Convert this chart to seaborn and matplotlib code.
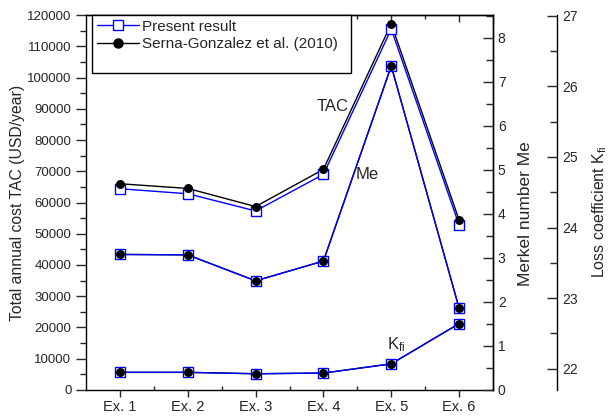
import matplotlib
matplotlib.use("Agg")
import matplotlib.pyplot as plt
import seaborn as sns
import numpy as np
import pandas as pd
from matplotlib.lines import Line2D
from matplotlib.ticker import MultipleLocator, FixedLocator

# ---- data ----
categories = ["Ex. 1", "Ex. 2", "Ex. 3", "Ex. 4", "Ex. 5", "Ex. 6"]
tac_present = [64400, 62800, 57300, 69000, 115500, 52800]
tac_serna = [66000, 64500, 58700, 70600, 117200, 54400]
me_present = [3.08, 3.07, 2.48, 2.93, 7.36, 1.86]
me_serna = [3.08, 3.07, 2.48, 2.93, 7.36, 1.86]
kfi_present = [21.95, 21.95, 21.93, 21.94, 22.07, 22.64]
kfi_serna = [21.95, 21.95, 21.93, 21.94, 22.07, 22.64]
series_labels = ["Present result", "Serna-Gonzalez et al. (2010)"]

pos = np.arange(len(categories))
df = pd.DataFrame({
    "x": pos,
    "tac_p": tac_present, "tac_s": tac_serna,
    "me_p": me_present, "me_s": me_serna,
    "kfi_p": kfi_present, "kfi_s": kfi_serna,
})

sns.set_style("ticks")
plt.rcParams["font.family"] = ["Liberation Sans", "DejaVu Sans"]
plt.rcParams["mathtext.fontset"] = "custom"
plt.rcParams["mathtext.rm"] = "Liberation Sans"
plt.rcParams["mathtext.it"] = "Liberation Sans:italic"
plt.rcParams["axes.linewidth"] = 1.0

BLUE = "#0000ff"
fig = plt.figure(figsize=(6.1, 4.18), dpi=100)
ax = fig.add_axes([0.1410, 0.0670, 0.6672, 0.8971])
ax2 = ax.twinx()
ax3 = ax.twinx()

blue_kw = dict(color=BLUE, lw=1.0, marker="s", markersize=7.5, markerfacecolor="white",
               markeredgecolor=BLUE, markeredgewidth=1.0)
black_line_kw = dict(color="black", lw=1.0)
dot_kw = dict(color="black", s=42, marker="o", edgecolor="black", linewidth=0)

for a, pcol, scol in [(ax, "tac_p", "tac_s"), (ax2, "me_p", "me_s"), (ax3, "kfi_p", "kfi_s")]:
    sns.lineplot(data=df, x="x", y=scol, ax=a, sort=False, zorder=2, **black_line_kw)
    sns.lineplot(data=df, x="x", y=pcol, ax=a, sort=False, zorder=3, **blue_kw)
    sns.scatterplot(data=df, x="x", y=scol, ax=a, zorder=4, **dot_kw)

# ---- axes ----
ax.set_xlim(-0.5, 5.5)
ax.set_xticks(pos)
ax.set_xticklabels(categories)
ax.xaxis.set_minor_locator(FixedLocator(pos[:-1] + 0.5))
ax.set_xlabel("")
ax.set_ylim(0, 120000)
ax.yaxis.set_major_locator(MultipleLocator(10000))
ax.yaxis.set_minor_locator(MultipleLocator(5000))
ax.tick_params(axis="y", which="major", direction="out", length=7, width=1, labelsize=9.5)
ax.tick_params(axis="y", which="minor", direction="out", length=4, width=1)
ax.tick_params(axis="x", which="major", direction="out", length=5, width=1, labelsize=10.5, pad=2)
ax.tick_params(axis="x", which="minor", direction="in", length=3, width=1)
ax.set_ylabel("Total annual cost TAC (USD/year)", fontsize=11.3)
ax.yaxis.set_label_coords(-0.150, 0.5)

top = ax.secondary_xaxis("top")
top.set_xticks(pos)
top.set_xticklabels([])
top.xaxis.set_minor_locator(FixedLocator(pos[:-1] + 0.5))
top.tick_params(which="major", direction="in", length=5, width=1)
top.tick_params(which="minor", direction="in", length=3, width=1)

for a in (ax2, ax3):
    a.spines["left"].set_visible(False)
    a.spines["top"].set_visible(False)
    a.spines["bottom"].set_visible(False)
    a.set_xlabel("")

ax2.set_ylim(0, 8.52)
ax2.yaxis.set_major_locator(MultipleLocator(1))
ax2.yaxis.set_minor_locator(MultipleLocator(0.5))
ax2.tick_params(axis="y", which="major", direction="in", length=7, width=1, labelsize=10)
ax2.tick_params(axis="y", which="minor", direction="in", length=5, width=1)
ax2.set_ylabel("Merkel number Me", fontsize=12.5)
ax2.yaxis.set_label_coords(1.062, 0.47)

ax3.spines["right"].set_position(("outward", 46))
ax3.set_ylim(21.7, 27.01)
ax3.yaxis.set_major_locator(MultipleLocator(1))
ax3.yaxis.set_minor_locator(MultipleLocator(0.5))
ax3.tick_params(axis="y", which="major", direction="in", length=7, width=1, labelsize=10)
ax3.tick_params(axis="y", which="minor", direction="in", length=5, width=1)
ax3.set_ylabel("Loss coefficient K$_{\\mathrm{fi}}$", fontsize=11.5)
ax3.yaxis.set_label_coords(1.240, 0.475)

for a in (ax, ax2, ax3):
    for s in a.spines.values():
        s.set_color("black")

# ---- annotations ----
ax.text(0.607, 0.755, "TAC", transform=ax.transAxes, fontsize=12, ha="center", va="center")
ax.text(0.690, 0.576, "Me", transform=ax.transAxes, fontsize=12, ha="center", va="center")
ax.text(0.740, 0.109, "K$_{\\mathrm{fi}}$", transform=ax.transAxes, fontsize=12, ha="left", va="baseline")

# ---- legend ----
h1 = Line2D([], [], **blue_kw)
h2 = Line2D([], [], color="black", lw=1.0, marker="o", markersize=6.5)
h3 = Line2D([], [], color="none")
leg = ax3.legend(handles=[h1, h2, h3], labels=series_labels + [" "],
                 loc="upper left", bbox_to_anchor=(0.0147, 1.0, 0.637, 0.0),
                 mode="expand", borderaxespad=0, frameon=True, fancybox=False,
                 edgecolor="black", framealpha=1, fontsize=11, handlelength=2.8,
                 handletextpad=0.2, labelspacing=0.22, borderpad=0.3)
leg.get_frame().set_linewidth(1.0)

fig.savefig("out.png", dpi=100)
